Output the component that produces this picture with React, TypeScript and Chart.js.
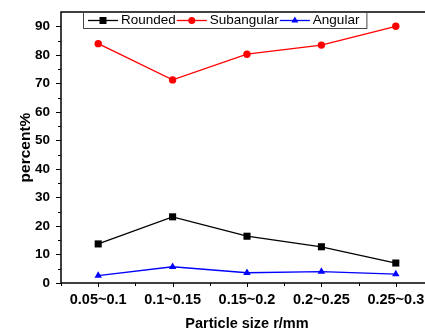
import React, { useEffect, useRef } from "react";
import { Chart, registerables } from "chart.js";

Chart.register(...registerables);

const categories = ["0.05~0.1", "0.1~0.15", "0.15~0.2", "0.2~0.25", "0.25~0.3"];
const rounded = [13.7, 23.2, 16.4, 12.7, 7.0];
const subangular = [83.9, 71.2, 80.2, 83.4, 90.0];
const angular = [2.6, 5.7, 3.6, 4.0, 3.1];
const seriesNames = ["Rounded", "Subangular", "Angular"];

const FONT = "'Liberation Sans', Arial, sans-serif";

const framePlugin = {
  id: "framePlugin",
  afterDraw(chart: any) {
    const { ctx, chartArea } = chart;
    const { left, top, right, bottom } = chartArea;
    const xs = chart.scales.x;
    const ys = chart.scales.y;
    ctx.save();
    ctx.strokeStyle = "#000";
    ctx.lineWidth = 1.5;
    ctx.strokeRect(left, top, right - left, bottom - top);
    ctx.lineWidth = 1;
    ctx.beginPath();
    for (let v = 0; v <= 90; v += 5) {
      const y = Math.round(ys.getPixelForValue(v)) + 0.5;
      const len = v % 10 === 0 ? 5 : 3;
      ctx.moveTo(left - len, y);
      ctx.lineTo(left, y);
    }
    const n = categories.length;
    for (let k = 0; k <= 2 * n; k++) {
      const x = Math.round(xs.getPixelForValue(k / 2 - 0.5)) + 0.5;
      const len = k % 2 === 1 ? 4 : 3;
      ctx.moveTo(x, bottom);
      ctx.lineTo(x, bottom + len);
    }
    ctx.stroke();

    // legend
    const bx = 83, by = 12, bh = 16;
    ctx.font = `13.5px ${FONT}`;
    ctx.textBaseline = "middle";
    ctx.textAlign = "left";
    const ds = chart.data.datasets;
    let x = 88;
    const cy = by + bh / 2 + 0.5;
    const items: any[] = [];
    for (let i = 0; i < ds.length; i++) {
      const w = ctx.measureText(ds[i].label).width;
      items.push({ x, w, d: ds[i] });
      x = x + 33 + w + 1;
    }
    const boxRight = x + 6;
    ctx.fillStyle = "#fff";
    ctx.fillRect(bx, by, boxRight - bx, bh);
    ctx.strokeStyle = "#444";
    ctx.lineWidth = 1;
    ctx.strokeRect(bx + 0.5, by + 0.5, boxRight - bx, bh);
    for (const it of items) {
      const d = it.d;
      ctx.strokeStyle = d.borderColor;
      ctx.lineWidth = 1.3;
      ctx.beginPath();
      ctx.moveTo(it.x, cy);
      ctx.lineTo(it.x + 30, cy);
      ctx.stroke();
      const mx = it.x + 15;
      ctx.fillStyle = d.borderColor;
      ctx.beginPath();
      if (d.pointStyle === "rect") {
        ctx.rect(mx - 3.5, cy - 3.5, 7, 7);
      } else if (d.pointStyle === "circle") {
        ctx.arc(mx, cy, 3.5, 0, Math.PI * 2);
      } else {
        const r = 4;
        ctx.moveTo(mx, cy - r);
        ctx.lineTo(mx + r * 0.866, cy + r * 0.5);
        ctx.lineTo(mx - r * 0.866, cy + r * 0.5);
        ctx.closePath();
      }
      ctx.fill();
      ctx.fillStyle = "#000";
      ctx.fillText(d.label, it.x + 33, cy);
    }
    ctx.restore();
  },
};

export default function App() {
  const ref = useRef<HTMLCanvasElement | null>(null);
  useEffect(() => {
    if (!ref.current) return;
    const mk = (label: string, data: number[], color: string, style: string, r: number) => ({
      label,
      data,
      borderColor: color,
      backgroundColor: color,
      pointBackgroundColor: color,
      pointBorderColor: color,
      pointStyle: style,
      pointRadius: r,
      pointBorderWidth: 0,
      borderWidth: 1.3,
      tension: 0,
      clip: false as any,
    });
    const chart = new Chart(ref.current, {
      type: "line",
      data: {
        labels: categories,
        datasets: [
          mk(seriesNames[0], rounded, "#000000", "rect", 5),
          mk(seriesNames[1], subangular, "#ff0000", "circle", 3.7),
          mk(seriesNames[2], angular, "#0000ff", "triangle", 4.3),
        ],
      },
      options: {
        responsive: false,
        animation: false,
        layout: { padding: { left: 0, top: 12, right: 7, bottom: 0 } },
        plugins: { legend: { display: false }, tooltip: { enabled: false } },
        scales: {
          x: {
            type: "category",
            offset: true,
            grid: { display: false, drawTicks: false },
            border: { display: false },
            ticks: {
              autoSkip: false,
              maxRotation: 0,
              padding: 8,
              color: "#000",
              font: { family: FONT, size: 14.5, weight: "bold" },
            },
            title: {
              display: true,
              text: "Particle size r/mm",
              color: "#000",
              padding: { top: 0, bottom: 0 },
              font: { family: FONT, size: 14.5, weight: "bold" },
            },
            afterFit: (s: any) => {
              s.height = 50;
              s.paddingLeft = 0;
              s.paddingRight = 0;
            },
          },
          y: {
            min: 0,
            max: 95,
            grid: { display: false, drawTicks: false },
            border: { display: false },
            ticks: {
              stepSize: 10,
              includeBounds: false,
              padding: 11,
              color: "#000",
              font: { family: FONT, size: 13.5, weight: "bold" },
            },
            title: {
              display: true,
              text: "percent%",
              color: "#000",
              padding: { top: 16, bottom: 0 },
              font: { family: FONT, size: 15.5, weight: "bold" },
            },
            afterFit: (s: any) => {
              s.width = 61;
              s.paddingTop = 0;
              s.paddingBottom = 0;
            },
          },
        },
      },
      plugins: [framePlugin],
    });
    return () => chart.destroy();
  }, []);
  return (
    <div style={{ position: "absolute", left: 0, top: 0, width: 425, height: 333, overflow: "hidden", background: "#fff" }}>
      <canvas ref={ref} width={440} height={333} style={{ display: "block" }} />
    </div>
  );
}
